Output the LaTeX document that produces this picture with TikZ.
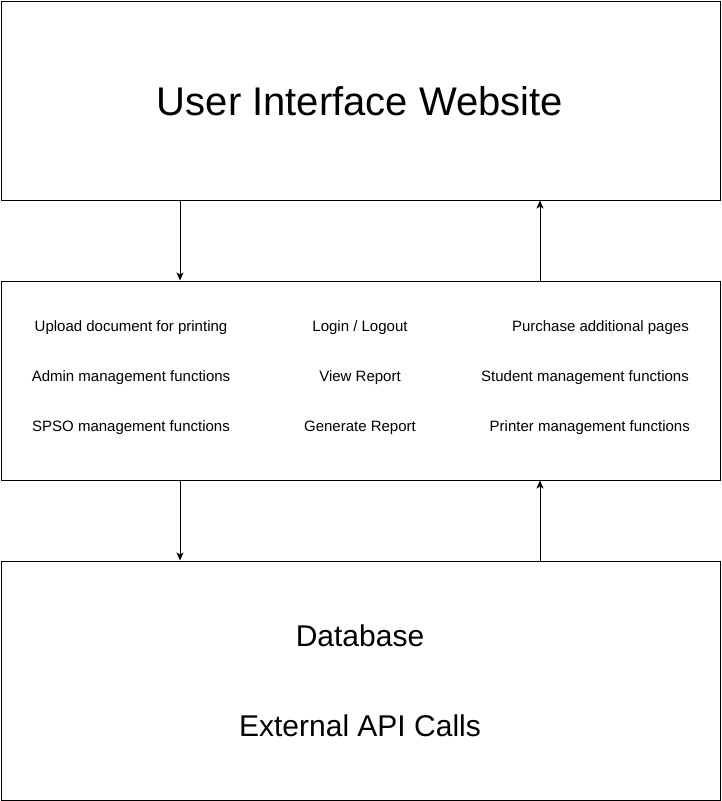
\documentclass[tikz,border=0pt]{standalone}
\usepackage{fontspec}
\setmainfont{Liberation Sans}
\usetikzlibrary{arrows.meta}
\begin{document}
\begin{tikzpicture}[x=1pt,y=-1pt,
  box/.style={draw,line width=1pt,inner sep=0pt},
  flow/.style={line width=1pt,-{Stealth[length=8pt,width=7pt,inset=2pt]}},
  small/.style={font=\fontsize{15}{18}\selectfont,inner sep=0pt},
  mid/.style={font=\fontsize{30}{36}\selectfont,inner sep=0pt},
  big/.style={font=\fontsize{40}{48}\selectfont,inner sep=0pt}]
\useasboundingbox (0,0) rectangle (721,801);
\fill[white] (0,0) rectangle (721,801);
\node[box,minimum width=719pt,minimum height=199pt] (ui) at (360.5,100.5) {};
\node[box,minimum width=719pt,minimum height=199pt] (fn) at (360.5,380.5) {};
\node[box,minimum width=719pt,minimum height=239pt] (db) at (360.5,680.5) {};
\node[big] (uit) at (360,101) {User Interface Website};
\node[mid] (dbt) at (360,636) {Database};
\node[mid] (api) at (360,726) {External API Calls};
\node[small] (a1) at (131,327.5) {Upload document for printing};
\node[small] (a2) at (131,377.5) {Admin management functions};
\node[small] (a3) at (131,427.5) {SPSO management functions};
\node[small] (b1) at (360,327.5) {Login / Logout};
\node[small] (b2) at (360,377.5) {View Report};
\node[small] (b3) at (360,427.5) {Generate Report};
\node[small,anchor=east] (c1) at (689,327.5) {Purchase additional pages};
\node[small,anchor=east] (c2) at (689,377.5) {Student management functions};
\node[small,anchor=east] (c3) at (690,427.5) {Printer management functions};
\coordinate (d1s) at (180,200.5);
\coordinate (d1e) at (180,280.5);
\coordinate (u1s) at (540,280.5);
\coordinate (u1e) at (540,200.5);
\coordinate (d2s) at (180,480.5);
\coordinate (d2e) at (180,560.5);
\coordinate (u2s) at (540,560.5);
\coordinate (u2e) at (540,480.5);
\draw[flow] (d1s) -- (d1e);
\draw[flow] (u1s) -- (u1e);
\draw[flow] (d2s) -- (d2e);
\draw[flow] (u2s) -- (u2e);
\end{tikzpicture}
\end{document}
